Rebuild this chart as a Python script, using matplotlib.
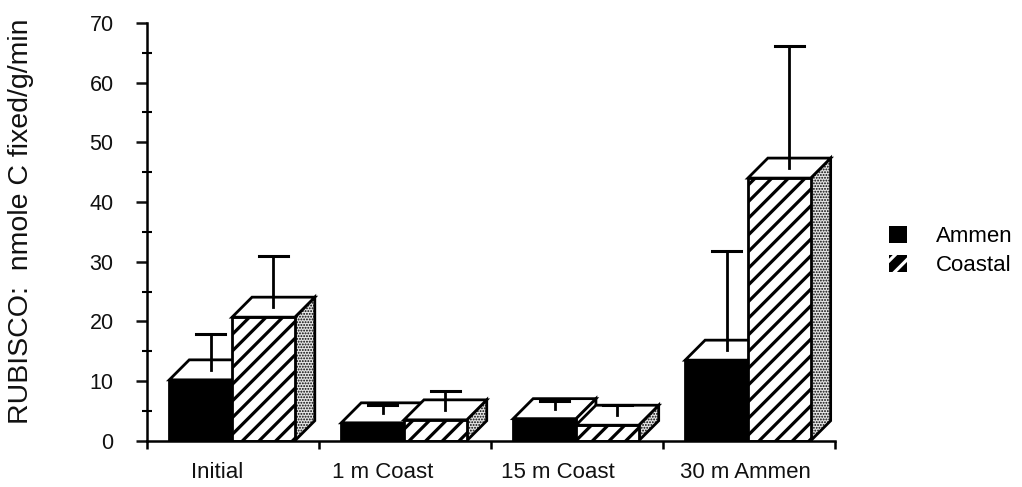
import matplotlib
matplotlib.use('Agg')
import matplotlib.pyplot as plt
from matplotlib.patches import Rectangle, Polygon, Patch
from matplotlib.ticker import MultipleLocator

plt.rcParams['font.family'] = ['Liberation Sans', 'DejaVu Sans']
plt.rcParams['hatch.linewidth'] = 2.3

categories = ['Initial', '1 m Coast', '15 m Coast', '30 m Ammen']
ammen = [10.2, 3.0, 3.7, 13.5]
ammen_err = [7.6, 3.0, 3.0, 18.3]
coastal = [20.7, 3.5, 2.6, 44.0]
coastal_err = [10.3, 4.9, 3.4, 22.1]

# layout of the fake 3d boxes (data units)
BAR_W = 0.365
DX = 0.116
DY = 3.35
AMMEN_OFF = 0.13
COASTAL_OFF = 0.495
LABEL_POS = [0.41, 1.37, 2.39, 3.48]
CAP = 0.085


def box(ax, x0, v, front_kw, side_kw, stipple=False):
    side = Polygon([(x0 + BAR_W, 0), (x0 + BAR_W + DX, DY),
                    (x0 + BAR_W + DX, v + DY), (x0 + BAR_W, v)],
                   closed=True, **side_kw)
    if stipple and hasattr(side, 'set_hatch_linewidth'):
        side.set_hatch_linewidth(0.9)
    front = Rectangle((x0, 0), BAR_W, v, **front_kw)
    top = Polygon([(x0, v), (x0 + BAR_W, v), (x0 + BAR_W + DX, v + DY),
                   (x0 + DX, v + DY)], closed=True,
                  facecolor='white', edgecolor='black', linewidth=2, joinstyle='miter')
    for p in (side, front, top):
        ax.add_patch(p)


def errbar(ax, x0, v, e):
    xc = x0 + BAR_W / 2 + DX / 2
    ax.plot([xc, xc], [v + DY / 2, v + e], color='black', lw=2, zorder=5)
    ax.plot([xc - CAP, xc + CAP], [v + e, v + e], color='black', lw=2.2, zorder=5)


fig = plt.figure(figsize=(10.22, 4.87), dpi=100)
ax = fig.add_axes([0.1438, 0.095, 0.673, 0.858])

ammen_front = dict(facecolor='black', edgecolor='black', linewidth=2)
ammen_side = dict(facecolor='white', edgecolor='black', linewidth=2)
coastal_front = dict(facecolor='white', edgecolor='black', linewidth=2, hatch='//')
coastal_side = dict(facecolor='#e4e4e4', edgecolor='black', linewidth=2, hatch='......')

for i in range(len(categories)):
    xa = i + AMMEN_OFF
    xc = i + COASTAL_OFF
    box(ax, xa, ammen[i], ammen_front, ammen_side)
    box(ax, xc, coastal[i], coastal_front, coastal_side, stipple=True)
    errbar(ax, xa, ammen[i], ammen_err[i])
    errbar(ax, xc, coastal[i], coastal_err[i])

ax.set_xlim(0, 4)
ax.set_ylim(0, 70)
for s in ('top', 'right'):
    ax.spines[s].set_visible(False)
for s in ('left', 'bottom'):
    ax.spines[s].set_linewidth(1.8)

ax.yaxis.set_major_locator(MultipleLocator(10))
ax.yaxis.set_minor_locator(MultipleLocator(5))
ax.tick_params(axis='y', which='major', direction='out', length=8, width=1.8,
               labelsize=15.5, pad=16, colors='#111111')
ax.tick_params(axis='y', which='minor', direction='inout', length=7, width=1.5)

ax.set_xticks([0, 1, 2, 3, 4])
ax.set_xticklabels([])
ax.set_xticks(LABEL_POS, minor=True)
ax.set_xticklabels(categories, minor=True)
ax.tick_params(axis='x', which='major', direction='out', length=6, width=1.8)
ax.tick_params(axis='x', which='minor', length=0, labelsize=16, pad=15,
               colors='#111111')

fig.text(0.021, 0.545, 'RUBISCO:  nmole C fixed/g/min', rotation=90,
         ha='center', va='center', fontsize=20.5, color='#111111')

handles = [Patch(facecolor='black', edgecolor='black', linewidth=0),
           Patch(facecolor='black', edgecolor='white', hatch='//', linewidth=0)]
ax.legend(handles, ['Ammen', 'Coastal'], loc='center left',
          bbox_to_anchor=(1.05, 0.455), frameon=False, fontsize=16,
          handlelength=0.8, handleheight=0.8, handletextpad=1.3,
          labelspacing=0.35)

fig.savefig('out.png', dpi=100, facecolor='white')
